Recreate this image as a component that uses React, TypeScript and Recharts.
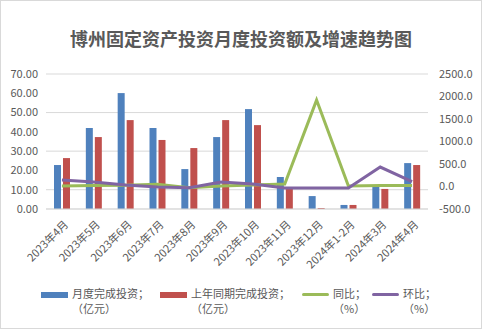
import { ComposedChart, Bar, Line, XAxis, YAxis, CartesianGrid } from 'recharts';

const months = ['2023年4月', '2023年5月', '2023年6月', '2023年7月', '2023年8月', '2023年9月', '2023年10月', '2023年11月', '2023年12月', '2024年1-2月', '2024年3月', '2024年4月'];
const monthlyInvest = [22.8, 42.0, 60.1, 42.0, 20.7, 37.3, 51.8, 16.6, 6.7, 2.1, 11.9, 23.8];
const lastYearInvest = [26.4, 37.3, 46.1, 35.8, 31.6, 46.1, 43.5, 11.4, 0.5, 2.1, 10.4, 22.8];
const yoy = [10, 20, 30, 50, -30, 10, 33, 55, 1920, 10, 20, 20];
const mom = [144, 100, 33, -11, -30, 100, 55, -33, -33, -33, 433, 107];

const leftTicks = [0, 10, 20, 30, 40, 50, 60, 70];
const rightTicks = [-500, 0, 500, 1000, 1500, 2000, 2500];

const data = months.map((m, i) => ({
  month: m,
  invest: monthlyInvest[i],
  lastYear: lastYearInvest[i],
  yoy: yoy[i],
  mom: mom[i],
}));

const axisColor = '#595959';
const font = '"Noto Sans CJK SC", "Noto Sans", sans-serif';

const MonthTick = (props: any) => {
  const { x, y, payload } = props;
  return (
    <text
      x={0}
      y={0}
      transform={`translate(${x + 5},${y + 6}) rotate(-45)`}
      textAnchor="end"
      dominantBaseline="middle"
      fontSize={11}
      fill={axisColor}
      fontFamily={font}
    >
      {payload.value}
    </text>
  );
};

const legendItems = [
  { color: '#4f81bd', kind: 'bar', line1: '月度完成投资；', line2: '（亿元）', left: 41 },
  { color: '#c0504d', kind: 'bar', line1: '上年同期完成投资；', line2: '（亿元）', left: 160 },
  { color: '#9bbb59', kind: 'line', line1: '同比；', line2: '（%）', left: 302 },
  { color: '#8064a2', kind: 'line', line1: '环比；', line2: '（%）', left: 372 },
];

export default function App() {
  return (
    <div style={{ position: 'absolute', left: 0, top: 0, width: 482, height: 330, background: '#fff', fontFamily: font }}>
      <div style={{ position: 'absolute', left: 0, top: 0, width: 480, height: 327, border: '1px solid #d9d9d9' }} />
      <div
        style={{
          position: 'absolute',
          left: 0,
          top: 26,
          width: 482,
          textAlign: 'center',
          fontSize: 18,
          fontWeight: 'bold',
          color: '#595959',
          lineHeight: '24px',
        }}
      >
        博州固定资产投资月度投资额及增速趋势图
      </div>
      <ComposedChart
        width={482}
        height={330}
        data={data}
        margin={{ top: 74, right: 0, bottom: 51, left: 0 }}
        barSize={7}
        barGap={2}
        style={{ position: 'absolute', left: 0, top: 0 }}
      >
        <CartesianGrid yAxisId="left" vertical={false} stroke="#d9d9d9" />
        <XAxis
          dataKey="month"
          interval={0}
          height={70}
          tick={<MonthTick />}
          tickLine={false}
          axisLine={{ stroke: '#d9d9d9' }}
        />
        <YAxis
          yAxisId="left"
          domain={[0, 70]}
          ticks={leftTicks}
          width={46}
          tickFormatter={(v: number) => v.toFixed(2)}
          tick={{ fontSize: 11, fill: axisColor, fontFamily: font }}
          axisLine={false}
          tickLine={false}
        />
        <YAxis
          yAxisId="right"
          orientation="right"
          domain={[-500, 2500]}
          ticks={rightTicks}
          width={54}
          tickFormatter={(v: number) => v.toFixed(1)}
          tick={{ fontSize: 11, fill: axisColor, fontFamily: font, textAnchor: 'start', dx: 3 }}
          axisLine={false}
          tickLine={false}
        />
        <Bar yAxisId="left" dataKey="invest" fill="#4f81bd" isAnimationActive={false} />
        <Bar yAxisId="left" dataKey="lastYear" fill="#c0504d" isAnimationActive={false} />
        <Line yAxisId="right" dataKey="yoy" stroke="#9bbb59" strokeWidth={3} dot={false} isAnimationActive={false} />
        <Line yAxisId="right" dataKey="mom" stroke="#8064a2" strokeWidth={3} dot={false} isAnimationActive={false} />
      </ComposedChart>
      {legendItems.map((it) => (
        <div key={it.line1} style={{ position: 'absolute', left: it.left, top: 286, display: 'flex', alignItems: 'flex-start' }}>
          <div
            style={{
              width: 27,
              height: it.kind === 'bar' ? 6 : 3,
              marginTop: it.kind === 'bar' ? 6 : 7,
              background: it.color,
              borderRadius: it.kind === 'line' ? 2 : 0,
              marginRight: 4,
            }}
          />
          <div style={{ fontSize: 11, color: axisColor, lineHeight: '15px' }}>
            <div>{it.line1}</div>
            <div>{it.line2}</div>
          </div>
        </div>
      ))}
    </div>
  );
}
